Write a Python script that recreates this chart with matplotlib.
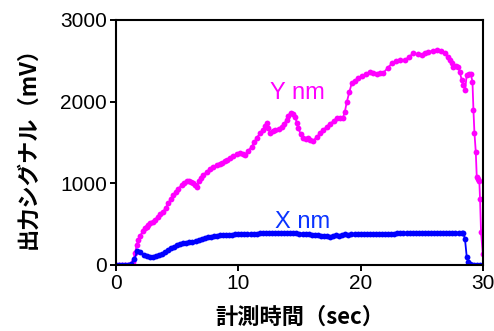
import matplotlib
matplotlib.use('Agg')
import matplotlib.pyplot as plt

y_time = [0, 0.25, 0.5, 0.75, 1.0, 1.2, 1.4, 1.55, 1.7, 1.83, 2.0, 2.2, 2.37, 2.5,
          2.64, 2.8, 3.0, 3.2, 3.4, 3.6, 3.87, 4.05, 4.28, 4.5, 4.7, 4.9, 5.1, 5.37,
          5.6, 5.8, 5.95, 6.1, 6.26, 6.45, 6.65, 6.8, 6.95, 7.15, 7.41, 7.7, 7.95,
          8.23, 8.5, 8.7, 8.91, 9.1, 9.32, 9.6, 9.87, 10.14, 10.35, 10.55, 10.8,
          11.09, 11.3, 11.5, 11.77, 12.0, 12.2, 12.32, 12.45, 12.59, 12.8, 13.0,
          13.3, 13.55, 13.75, 13.95, 14.1, 14.28, 14.45, 14.64, 14.78, 14.91, 15.1,
          15.32, 15.55, 15.73, 15.9, 16.13, 16.4, 16.68, 16.95, 17.23, 17.5, 17.8,
          18.04, 18.3, 18.53, 18.7, 18.86, 19.08, 19.27, 19.5, 19.82, 20.1, 20.4,
          20.77, 21.05, 21.31, 21.6, 21.86, 22.2, 22.54, 22.9, 23.22, 23.63, 23.95,
          24.31, 24.65, 24.99, 25.25, 25.54, 25.9, 26.22, 26.55, 26.9, 27.1, 27.31,
          27.45, 27.58, 27.8, 27.99, 28.1, 28.27, 28.4, 28.54, 28.67, 28.85, 29.0,
          29.14, 29.22, 29.3, 29.41, 29.49, 29.6, 29.7, 29.76, 29.84, 29.98]
y_nm = [0, 0, 0, 0, 0, 0, 40, 150, 240, 310, 360, 420, 455, 470,
        490, 510, 530, 555, 590, 620, 655, 700, 755, 810, 855, 895, 935, 980,
        1005, 1025, 1032, 1020, 1008, 985, 960, 1030, 1065, 1100, 1143, 1170, 1195,
        1224, 1240, 1255, 1268, 1285, 1306, 1335, 1360, 1367, 1355, 1347, 1395,
        1449, 1500, 1555, 1612, 1650, 1700, 1735, 1680, 1620, 1635, 1650,
        1670, 1694, 1730, 1775, 1830, 1865, 1855, 1816, 1740, 1673, 1600,
        1551, 1545, 1551, 1535, 1522, 1565, 1612, 1655, 1694, 1730, 1765,
        1796, 1800, 1796, 1870, 1990, 2122, 2224, 2255, 2286, 2310, 2340,
        2367, 2350, 2339, 2345, 2355, 2410, 2469, 2495, 2510, 2510, 2550,
        2592, 2580, 2571, 2595, 2612, 2622, 2633, 2620, 2592, 2550, 2510,
        2470, 2429, 2440, 2429, 2360, 2265, 2200, 2143, 2327, 2335, 2339,
        2245, 1898, 1620, 1388, 1082, 1050, 1033, 804, 408, 140]

x_time = [0, 0.25, 0.5, 0.75, 1.0, 1.25, 1.5, 1.75, 2.0, 2.25, 2.5, 2.75, 3.0, 3.25,
          3.5, 3.75, 4.0, 4.25, 4.5, 4.75, 5.0, 5.25, 5.5, 5.75, 6.0, 6.25, 6.5,
          6.75, 7.0, 7.25, 7.5, 7.75, 8.0, 8.25, 8.5, 8.75, 9.0, 9.25, 9.5, 9.75,
          10.0, 10.25, 10.5, 10.75, 11.0, 11.25, 11.5, 11.75, 12.0, 12.25, 12.5,
          12.75, 13.0, 13.25, 13.5, 13.75, 14.0, 14.25, 14.5, 14.75, 15.0, 15.25,
          15.5, 15.75, 16.0, 16.25, 16.5, 16.75, 17.0, 17.25, 17.5, 17.75, 18.0,
          18.25, 18.5, 18.75, 19.0, 19.25, 19.5, 19.75, 20.0, 20.25, 20.5, 20.75,
          21.0, 21.25, 21.5, 21.75, 22.0, 22.25, 22.5, 22.75, 23.0, 23.25, 23.5,
          23.75, 24.0, 24.25, 24.5, 24.75, 25.0, 25.25, 25.5, 25.75, 26.0, 26.25,
          26.5, 26.75, 27.0, 27.25, 27.5, 27.75, 28.0, 28.25, 28.4, 28.53, 28.67,
          28.8, 28.94, 29.1, 29.3, 29.5, 29.75, 30.0]
x_nm = [0, 0, 0, 0, 3, 15, 70, 170, 160, 120, 105, 95, 100, 112,
        125, 137, 155, 180, 205, 225, 245, 258, 268, 275, 280, 285, 295,
        307, 320, 332, 342, 348, 354, 358, 362, 365, 368, 370, 372, 374,
        376, 377, 379, 380, 382, 383, 385, 386, 387, 388, 389,
        390, 391, 392, 393, 394, 395, 396, 394, 390, 385, 382,
        378, 375, 372, 370, 365, 360, 355, 350, 347, 360, 365,
        358, 370, 375, 372, 375, 378, 380, 380, 379, 378, 380,
        382, 383, 383, 384, 385, 385, 384, 385, 386, 386, 387,
        387, 388, 388, 387, 388, 390, 390, 390, 391, 392, 392,
        392, 393, 394, 394, 394, 395, 395, 396, 396, 314, 102,
        40, 15, 5, 2, 0, 0, 0]

xticks = [0, 10, 20, 30]
yticks = [0, 1000, 2000, 3000]

MAGENTA = '#ff00ff'
BLUE = '#0000ff'
cjk = ['Noto Sans CJK JP', 'DejaVu Sans']

plt.rcParams['font.family'] = ['Liberation Sans', 'DejaVu Sans']

fig = plt.figure(figsize=(4.94, 3.31), dpi=100)
ax = fig.add_axes([0.2348, 0.1994, 0.7429, 0.7402])

ax.plot(y_time, y_nm, color=MAGENTA, lw=1.3, marker='o', ms=4.2, mew=0)
ax.plot(x_time, x_nm, color=BLUE, lw=1.3, marker='o', ms=4.2, mew=0)

ax.text(14.84, 2033, 'Y nm', color=MAGENTA, fontsize=17, ha='center', va='baseline')
ax.text(15.25, 453, 'X nm', color='#0a33ff', fontsize=17, ha='center', va='baseline')

ax.set_xlim(0, 30)
ax.set_ylim(0, 3000)
ax.set_xticks(xticks)
ax.set_yticks(yticks)
ax.tick_params(axis='both', labelsize=15, length=4.5, width=1.4, direction='out', pad=2)
for s in ax.spines.values():
    s.set_linewidth(1.5)

ax.set_xlabel('計測時間（sec）', fontsize=16, fontweight='bold', family=cjk, labelpad=9)
ax.set_ylabel('出力シグナル（mV）', fontsize=16, fontweight='bold', family=cjk, labelpad=15)

fig.savefig('out.png', dpi=100)
